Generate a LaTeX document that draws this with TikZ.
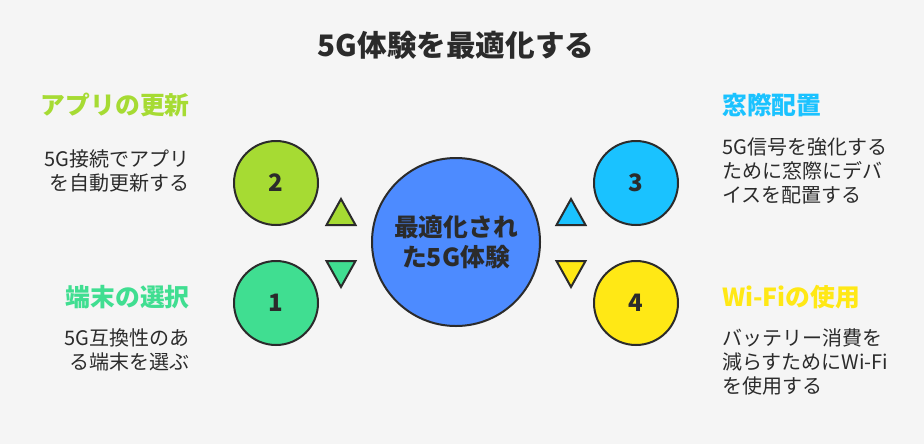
\documentclass[tikz,border=0pt]{standalone}
\usepackage{fontspec}
\setmainfont{Noto Sans CJK JP}
\definecolor{bgcol}{HTML}{F5F5F5}
\definecolor{inkcol}{HTML}{2B2B2B}
\definecolor{limecol}{HTML}{A6DB33}
\definecolor{greencol}{HTML}{40DE91}
\definecolor{cyancol}{HTML}{1AC2FF}
\definecolor{yellowcol}{HTML}{FFE815}
\definecolor{bluecol}{HTML}{4D8BFF}
\begin{document}
\begin{tikzpicture}
[x=0.75pt,y=-0.75pt]
\tikzstyle{step circle}=[circle,draw=inkcol,line width=1.5pt,minimum size=63pt,inner sep=0,text=inkcol,font=\fontsize{18}{22}\selectfont\bfseries]
\tikzstyle{head left}=[anchor=east,inner sep=0,font=\fontsize{18.6}{22}\selectfont\bfseries]
\tikzstyle{head right}=[anchor=west,inner sep=0,font=\fontsize{18.6}{22}\selectfont\bfseries]
\tikzstyle{body left}=[anchor=east,align=right,inner sep=0,text=inkcol,font=\fontsize{15}{18}\selectfont]
\tikzstyle{body right}=[anchor=west,align=left,inner sep=0,text=inkcol,font=\fontsize{15}{18}\selectfont]
\tikzstyle{tip}=[draw=inkcol,line width=1.5pt,line join=miter]

\fill[bgcol](0,0)rectangle(924,444);
\useasboundingbox(0,0)rectangle(924,444);

\node(title)[text=inkcol,font=\fontsize{22.2}{26}\selectfont\bfseries]at(456,45){5G体験を最適化する};

\node(center)[circle,draw=inkcol,fill=bluecol,line width=1.5pt,minimum size=126pt,inner sep=0,align=center,text=inkcol,font=\fontsize{18.6}{22.5}\selectfont\bfseries]at(456,242){最適化され\\た5G体験};

\node(2)[step circle,fill=limecol]at(276,183){2};
\node(1)[step circle,fill=greencol]at(276,303){1};
\node(3)[step circle,fill=cyancol]at(636,183){3};
\node(4)[step circle,fill=yellowcol]at(636,303){4};

\draw[tip,fill=limecol](341,199)--(355.5,225)--(326.5,225)--cycle;
\draw[tip,fill=greencol](341,287)--(355.5,261)--(326.5,261)--cycle;
\draw[tip,fill=cyancol](571,199)--(585.5,225)--(556.5,225)--cycle;
\draw[tip,fill=yellowcol](571,287)--(585.5,261)--(556.5,261)--cycle;

\node(head2)[head left,text=limecol]at(190,105){アプリの更新};
\node(body2)[body left]at(190,171){5G接続でアプリ\\を自動更新する};
\node(head1)[head left,text=greencol]at(190,297){端末の選択};
\node(body1)[body left]at(190,350){5G互換性のあ\\る端末を選ぶ};
\node(head3)[head right,text=cyancol]at(722,105){窓際配置};
\node(body3)[body right]at(722,171){5G信号を強化する\\ために窓際にデバ\\イスを配置する};
\node(head4)[head right,text=yellowcol]at(722,297){Wi-Fiの使用};
\node(body4)[body right]at(722,362){バッテリー消費を\\減らすためにWi-Fi\\を使用する};
\end{tikzpicture}
\end{document}
